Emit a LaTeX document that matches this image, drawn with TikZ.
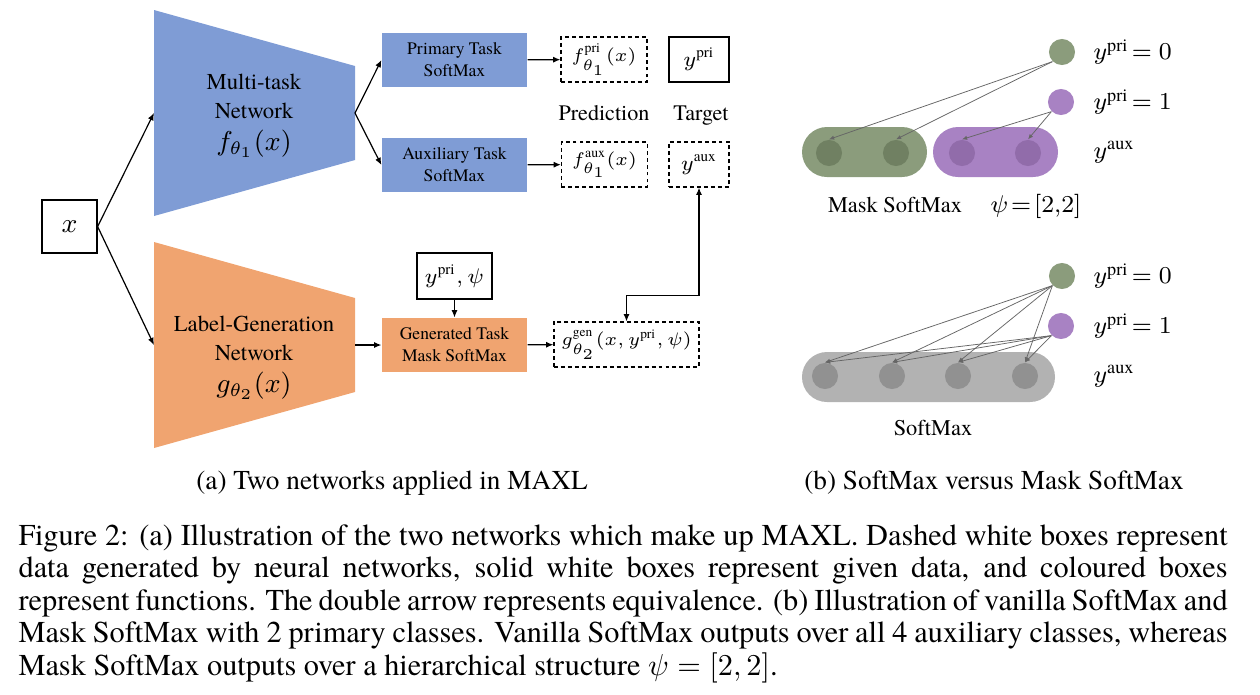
\documentclass[tikz,border=0pt]{standalone}
\usepackage{fontspec}
\setmainfont{TeX Gyre Termes}
\usetikzlibrary{positioning, arrows.meta}

\definecolor{netblue}{RGB}{127,156,213}
\definecolor{netorange}{RGB}{240,164,112}
\definecolor{prigreen}{RGB}{139,156,124}
\definecolor{prigreendk}{RGB}{112,128,98}
\definecolor{pripurple}{RGB}{168,130,195}
\definecolor{pripurpledk}{RGB}{145,108,170}
\definecolor{auxgray}{RGB}{178,178,178}
\definecolor{auxgraydk}{RGB}{145,145,145}

\begin{document}
\begin{tikzpicture}[
    x=0.33pt, y=-0.33pt,
    func/.style={rectangle, minimum width=47.85pt, minimum height=17.8pt, inner sep=0pt, align=center, font=\fontsize{5.8}{7.2}\selectfont},
    given/.style={rectangle, draw, line width=0.4pt, fill=white, inner sep=0pt, minimum height=14.85pt, font=\fontsize{6.5}{8}\selectfont},
    gen/.style={given, dash pattern=on 1.3pt off 1pt},
    nettext/.style={align=center, font=\fontsize{7.5}{9.6}\selectfont},
    arrow/.style={-{Latex[length=2.4pt,width=2pt]}, line width=0.4pt},
    dblarrow/.style={{Latex[length=2.4pt,width=2pt]}-{Latex[length=2.4pt,width=2pt]}, line width=0.4pt},
    dot/.style={circle, inner sep=0pt, minimum size=8.6pt},
    pill/.style={rectangle, rounded corners=8.25pt, inner sep=0pt, minimum height=16.5pt},
    link/.style={-{Latex[length=1.7pt,width=1.4pt]}, line width=0.25pt, draw=black!60},
    lbl/.style={anchor=west, inner sep=0pt, font=\fontsize{8}{10}\selectfont}
]
\useasboundingbox (0,0) rectangle (1260,694);

% Input
\node[given, minimum width=18.15pt, minimum height=17.5pt, font=\fontsize{9.5}{11}\selectfont] (x) at (69.5,226.5) {$x$};

% Multi-task network
\fill[netblue] (154,10) -- (355,66) -- (355,160) -- (154,216) -- cycle;
\coordinate (mtn-in) at (154,113);
\coordinate (mtn-out) at (355,113);
\node[nettext] (mtn) at (254,116) {Multi-task\\Network\\[1pt]{\fontsize{9}{9}\selectfont$f_{\theta_1}(x)$}};

% Label-generation network
\fill[netorange] (154,242) -- (355,298) -- (355,392) -- (154,448) -- cycle;
\coordinate (lgn-in) at (154,345);
\coordinate (lgn-out) at (355,345);
\node[nettext] (lgn) at (254,358) {Label-Generation\\Network\\[1pt]{\fontsize{9}{9}\selectfont$g_{\theta_2}(x)$}};

% Task heads
\node[func, fill=netblue] (pri) at (454.5,60) {Primary Task\\SoftMax};
\node[func, fill=netblue] (aux) at (454.5,165) {Auxiliary Task\\SoftMax};
\node[func, fill=netorange] (gentask) at (454.5,345) {Generated Task\\Mask SoftMax};
\node[given, minimum width=24.75pt, minimum height=15.2pt, font=\fontsize{7}{8}\selectfont] (gin) at (454.5,276) {$y^{\mathrm{pri}},\psi$};

% Predictions and targets
\node[gen, minimum width=28.4pt] (fpri) at (604,59.5) {$f^{\mathrm{pri}}_{\theta_1}(x)$};
\node[given, minimum width=19.8pt, font=\fontsize{7}{8}\selectfont] (ypri) at (699,59.5) {$y^{\mathrm{pri}}$};
\node[gen, minimum width=28.4pt] (faux) at (604.5,164.5) {$f^{\mathrm{aux}}_{\theta_1}(x)$};
\node[gen, minimum width=19.8pt, font=\fontsize{7}{8}\selectfont] (yaux) at (699,164.5) {$y^{\mathrm{aux}}$};
\node[gen, minimum width=47.85pt, font=\fontsize{6.3}{8}\selectfont] (ggen) at (626.5,344.5) {$g^{\mathrm{gen}}_{\theta_2}(x,y^{\mathrm{pri}},\psi)$};
\node[anchor=base, font=\fontsize{7.3}{9}\selectfont] (pred) at (604,120) {Prediction};
\node[anchor=base, font=\fontsize{7.3}{9}\selectfont] (tgt) at (701,120) {Target};

% Connectors
\draw[arrow] (x.east) -- (mtn-in);
\draw[arrow] (x.east) -- (lgn-in);
\draw[arrow] (mtn-out) -- (pri.west);
\draw[arrow] (mtn-out) -- (aux.west);
\draw[arrow] (lgn-out) -- (gentask.west);
\draw[arrow] (gin) -- (gentask);
\draw[arrow] (pri) -- (fpri);
\draw[arrow] (aux) -- (faux);
\draw[arrow] (gentask) -- (ggen);
\draw[dblarrow] (ggen.north) -- ++(0,-26) -| (yaux.south);

% Mask SoftMax
\node[pill, fill=prigreen, minimum width=41.25pt] (mgrp1) at (864.5,152) {};
\node[pill, fill=pripurple, minimum width=41.25pt] (mgrp2) at (995.5,152) {};
\foreach \i/\px/\c in {1/829/prigreendk, 2/896/prigreendk, 3/962/pripurpledk, 4/1028/pripurpledk}
    \node[dot, fill=\c] (m\i) at (\px,153) {};
\node[dot, fill=prigreen] (mp0) at (1062,52) {};
\node[dot, fill=pripurple] (mp1) at (1061,102) {};
\node[lbl] (mp0-lbl) at (1093,52) {$y^{\mathrm{pri}}\!=0$};
\node[lbl] (mp1-lbl) at (1093,102) {$y^{\mathrm{pri}}\!=1$};
\node[lbl] (maux-lbl) at (1093,152) {$y^{\mathrm{aux}}$};
\draw[link] (mp0.south west) -- (m1.north);
\draw[link] (mp0.south west) -- (m2.north);
\draw[link] (mp1.south west) -- (m3.north);
\draw[link] (mp1.south west) -- (m4.north);
\node[anchor=base, font=\fontsize{7.4}{9}\selectfont] (mname) at (895,212) {Mask SoftMax};
\node[anchor=base, font=\fontsize{8}{10}\selectfont] (mpsi) at (1036,212) {$\psi\!=\![2,\!2]$};

% Vanilla SoftMax
\node[pill, fill=auxgray, minimum width=83.5pt] (sgrp) at (928.5,377) {};
\foreach \i/\px in {1/825, 2/892, 3/958, 4/1025}
    \node[dot, fill=auxgraydk] (s\i) at (\px,376) {};
\node[dot, fill=prigreen] (sp0) at (1062,276) {};
\node[dot, fill=pripurple] (sp1) at (1061,326) {};
\node[lbl] (sp0-lbl) at (1093,276) {$y^{\mathrm{pri}}\!=0$};
\node[lbl] (sp1-lbl) at (1093,326) {$y^{\mathrm{pri}}\!=1$};
\node[lbl] (saux-lbl) at (1093,376) {$y^{\mathrm{aux}}$};
\foreach \i in {1,...,4} {
    \draw[link] (sp0.south west) -- (s\i.north);
    \draw[link] (sp1.south west) -- (s\i.north);
}
\node[anchor=base, font=\fontsize{7.4}{9}\selectfont] (sname) at (933,435) {SoftMax};

% Captions
\node[anchor=base, font=\fontsize{9}{11}\selectfont] (capa) at (392,489) {(a) Two networks applied in MAXL};
\node[anchor=base, font=\fontsize{9}{11}\selectfont] (capb) at (994,489) {(b) SoftMax versus Mask SoftMax};
\node[anchor=north west, text width=399pt, align=justify, inner sep=0pt, font=\fontsize{10}{10.7}\selectfont] (cap) at (18,524)
    {Figure 2: (a) Illustration of the two networks which make up MAXL. Dashed white boxes represent\linebreak
     data generated by neural networks, solid white boxes represent given data, and coloured boxes\linebreak
     represent functions. The double arrow represents equivalence. (b) Illustration of vanilla SoftMax and\linebreak
     Mask SoftMax with 2 primary classes. Vanilla SoftMax outputs over all 4 auxiliary classes, whereas\linebreak
     Mask SoftMax outputs over a hierarchical structure $\psi=[2,2]$.};

\end{tikzpicture}
\end{document}
